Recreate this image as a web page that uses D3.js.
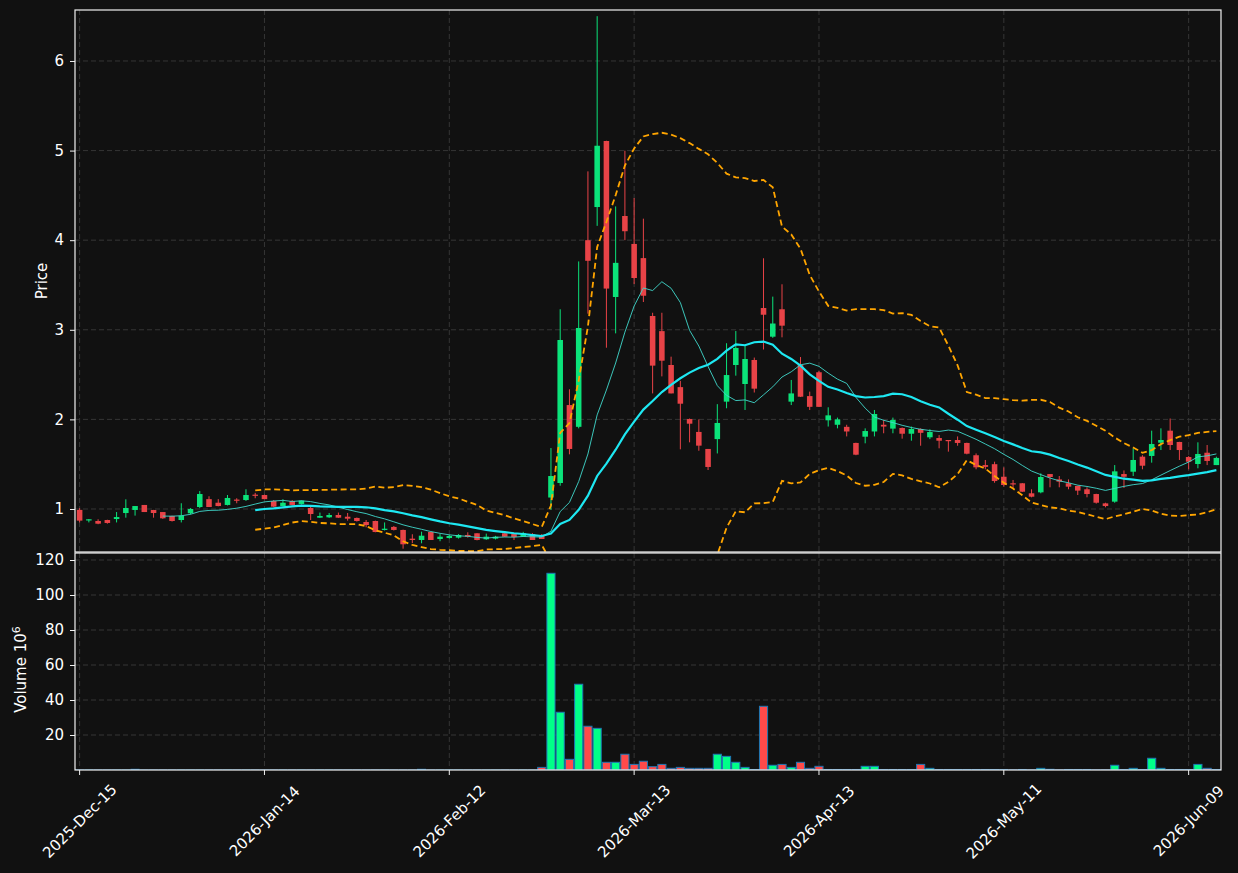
<!DOCTYPE html>
<html lang="en">
<head>
  <meta charset="UTF-8">
  <title>Price / Volume Candlestick</title>
  <style>
    body { margin: 0; background: #111111; }
    svg text { font-family: "DejaVu Sans", sans-serif; fill: #ffffff; font-size: 15px; }
    .grid line { stroke: #3a3a3a; stroke-width: 0.9; stroke-dasharray: 5,3; }
    .spine { fill: none; stroke: #f2f2f2; stroke-width: 1.2; }
  </style>
</head>
<body>
<svg id="chart" width="1238" height="873"></svg>
<script src="https://d3js.org/d3.v7.min.js"></script>
<script>
  // trading days shown on the x axis (index based, weekends/holidays skipped)
  const dates = [
    '2025-12-15','2025-12-16','2025-12-17','2025-12-18','2025-12-19','2025-12-22','2025-12-23','2025-12-24','2025-12-26','2025-12-29',
    '2025-12-30','2025-12-31','2026-01-02','2026-01-05','2026-01-06','2026-01-07','2026-01-08','2026-01-09','2026-01-12','2026-01-13',
    '2026-01-14','2026-01-15','2026-01-16','2026-01-20','2026-01-21','2026-01-22','2026-01-23','2026-01-26','2026-01-27','2026-01-28',
    '2026-01-29','2026-01-30','2026-02-02','2026-02-03','2026-02-04','2026-02-05','2026-02-06','2026-02-09','2026-02-10','2026-02-11',
    '2026-02-12','2026-02-13','2026-02-17','2026-02-18','2026-02-19','2026-02-20','2026-02-23','2026-02-24','2026-02-25','2026-02-26',
    '2026-02-27','2026-03-02','2026-03-03','2026-03-04','2026-03-05','2026-03-06','2026-03-09','2026-03-10','2026-03-11','2026-03-12',
    '2026-03-13','2026-03-16','2026-03-17','2026-03-18','2026-03-19','2026-03-20','2026-03-23','2026-03-24','2026-03-25','2026-03-26',
    '2026-03-27','2026-03-30','2026-03-31','2026-04-01','2026-04-02','2026-04-06','2026-04-07','2026-04-08','2026-04-09','2026-04-10',
    '2026-04-13','2026-04-14','2026-04-15','2026-04-16','2026-04-17','2026-04-20','2026-04-21','2026-04-22','2026-04-23','2026-04-24',
    '2026-04-27','2026-04-28','2026-04-29','2026-04-30','2026-05-01','2026-05-04','2026-05-05','2026-05-06','2026-05-07','2026-05-08',
    '2026-05-11','2026-05-12','2026-05-13','2026-05-14','2026-05-15','2026-05-18','2026-05-19','2026-05-20','2026-05-21','2026-05-22',
    '2026-05-26','2026-05-27','2026-05-28','2026-05-29','2026-06-01','2026-06-02','2026-06-03','2026-06-04','2026-06-05','2026-06-08',
    '2026-06-09','2026-06-10','2026-06-11','2026-06-12'
  ];

  const open = [
    0.99,0.88,0.866,0.877,0.888,0.955,0.989,1.045,0.989,0.966,
    0.922,0.877,0.952,1.022,1.11,1.07,1.045,1.105,1.10,1.16,
    1.156,1.089,1.033,1.089,1.056,1.011,0.903,0.907,0.933,0.914,
    0.90,0.855,0.866,0.766,0.80,0.766,0.669,0.654,0.743,0.665,
    0.676,0.68,0.71,0.729,0.662,0.669,0.729,0.72,0.691,0.721,
    0.71,1.128,1.29,2.16,1.917,4.0,4.37,5.107,3.366,4.27,
    3.958,3.80,3.154,2.985,2.607,2.36,2.004,1.86,1.67,1.78,
    2.198,2.607,2.395,2.663,3.243,2.923,3.229,2.198,2.607,2.26,
    2.526,1.99,1.94,1.917,1.737,1.807,1.865,1.94,1.897,1.904,
    1.84,1.893,1.80,1.792,1.77,1.77,1.737,1.60,1.49,1.50,
    1.36,1.287,1.287,1.175,1.186,1.39,1.33,1.287,1.257,1.22,
    1.167,1.063,1.082,1.39,1.416,1.584,1.592,1.74,1.874,1.748,
    1.58,1.502,1.628,1.49
  ];
  const high = [
    1.01,0.887,0.885,0.88,0.966,1.108,1.033,1.045,0.99,0.966,
    0.925,1.064,1.01,1.20,1.142,1.11,1.156,1.12,1.22,1.18,
    1.16,1.10,1.108,1.10,1.095,1.04,0.96,0.955,0.96,0.955,
    0.905,0.877,0.87,0.85,0.81,0.77,0.718,0.747,0.745,0.72,
    0.71,0.72,0.74,0.73,0.725,0.70,0.735,0.73,0.745,0.73,
    0.72,1.68,3.229,2.336,3.763,4.768,6.50,5.11,4.377,4.999,
    4.47,4.24,3.19,3.19,2.70,2.43,2.01,2.00,1.67,2.17,
    2.85,2.986,2.83,2.69,3.798,3.37,3.508,2.44,2.696,2.31,
    2.54,2.135,2.02,1.94,1.74,1.90,2.105,1.993,2.02,1.91,
    1.92,1.90,1.89,1.825,1.77,1.81,1.74,1.62,1.547,1.528,
    1.465,1.324,1.29,1.22,1.398,1.39,1.368,1.33,1.26,1.242,
    1.17,1.07,1.49,1.43,1.677,1.60,1.874,1.90,2.01,1.75,
    1.59,1.744,1.714,1.584
  ];
  const low = [
    0.85,0.85,0.83,0.836,0.85,0.903,0.926,0.966,0.903,0.89,
    0.86,0.85,0.94,1.01,1.022,1.03,1.04,1.064,1.09,1.12,
    1.11,1.02,1.03,1.04,1.05,0.877,0.90,0.90,0.90,0.87,
    0.86,0.796,0.74,0.76,0.76,0.557,0.62,0.617,0.654,0.64,
    0.67,0.67,0.68,0.65,0.655,0.66,0.69,0.654,0.69,0.654,
    0.665,0.99,1.26,1.61,1.90,3.18,4.16,2.80,2.96,4.0,
    3.51,3.31,2.29,2.48,2.29,1.666,1.744,1.65,1.435,1.62,
    2.124,2.488,2.105,2.30,2.78,2.91,2.916,2.16,2.25,2.105,
    2.14,1.92,1.90,1.81,1.60,1.733,1.81,1.845,1.845,1.785,
    1.762,1.706,1.78,1.677,1.64,1.706,1.61,1.443,1.443,1.293,
    1.25,1.23,1.19,1.13,1.175,1.242,1.242,1.22,1.156,1.13,
    1.06,1.019,1.07,1.234,1.368,1.443,1.517,1.658,1.658,1.547,
    1.443,1.454,1.49,1.49
  ];
  const close = [
    0.87,0.885,0.836,0.844,0.91,1.011,1.033,0.966,0.955,0.896,
    0.866,0.926,1.0,1.167,1.022,1.033,1.123,1.10,1.156,1.156,
    1.11,1.026,1.07,1.045,1.093,0.944,0.922,0.933,0.903,0.892,
    0.866,0.821,0.743,0.78,0.766,0.606,0.654,0.702,0.654,0.691,
    0.699,0.71,0.69,0.654,0.691,0.691,0.691,0.687,0.729,0.654,
    0.665,1.368,2.886,1.67,3.02,3.77,5.054,3.46,3.747,4.10,
    3.578,3.38,2.60,2.655,2.29,2.175,1.952,1.707,1.469,1.96,
    2.495,2.797,2.674,2.343,3.168,3.07,3.046,2.29,2.253,2.14,
    2.14,2.045,2.0,1.865,1.606,1.87,2.06,1.92,1.993,1.84,
    1.893,1.85,1.859,1.762,1.76,1.737,1.617,1.465,1.47,1.312,
    1.268,1.276,1.193,1.137,1.357,1.357,1.305,1.249,1.205,1.167,
    1.07,1.033,1.42,1.36,1.547,1.483,1.725,1.77,1.714,1.658,
    1.528,1.614,1.536,1.57
  ];
  // volume in millions
  const volume = [
    0.05,0.05,0.05,0.05,0.05,0.05,0.4,0.05,0.05,0.05,
    0.05,0.05,0.05,0.05,0.05,0.05,0.05,0.05,0.05,0.05,
    0.05,0.05,0.05,0.05,0.05,0.05,0.05,0.05,0.05,0.05,
    0.05,0.05,0.05,0.05,0.05,0.05,0.05,0.4,0.05,0.05,
    0.05,0.05,0.05,0.05,0.05,0.05,0.05,0.05,0.05,0.05,
    1.5,112.4,33,6.1,49,25,23.8,4.4,4.4,9,
    3.2,5,1.9,3.2,0.95,1.5,0.95,0.95,0.95,9,
    7.8,4.4,1.5,0.3,36.4,2.7,3.2,1.5,4.4,0.95,
    2.1,0.3,0.3,0.3,0.3,2.1,2.1,0.3,0.3,0.3,
    0.3,3.2,0.95,0.3,0.3,0.3,0.3,0.3,0.3,0.3,
    0.3,0.1,0.3,0.1,0.95,0.4,0.1,0.3,0.3,0.3,
    0.1,0.1,2.7,0.3,0.95,0.3,6.7,0.95,0.3,0.3,
    0.3,3.2,0.95,0.3
  ];

  const priceTicks = [1, 2, 3, 4, 5, 6];
  const volumeTicks = [20, 40, 60, 80, 100, 120];
  const dateTickIdx = [0, 20, 40, 60, 80, 100, 120];

  const upColor = '#0be37a', downColor = '#e84347';
  const upVol = '#00ff88', downVol = '#ff4a4a';

  const n = dates.length;
  const parseDate = d3.timeParse('%Y-%m-%d');
  const fmtDate = d3.timeFormat('%Y-%b-%d');
  const bars = d3.range(n).map(i => ({
    i, date: parseDate(dates[i]), o: open[i], h: high[i], l: low[i], c: close[i], v: volume[i]
  }));

  // layout
  const left = 75, right = 1221;
  const pTop = 10, pBottom = 552;
  const vTop = 553, vBottom = 770;

  const x = d3.scaleLinear().domain([-0.5, n - 0.5]).range([left, right]);
  const yPrice = d3.scaleLinear().domain([0.52, 6.569]).range([pBottom, pTop]);
  const yVol = d3.scaleLinear().domain([0, 124]).range([vBottom, vTop]);
  const step = x(1) - x(0);

  const svg = d3.select('#chart');
  svg.append('rect').attr('width', 1238).attr('height', 873).attr('fill', '#111111');

  const defs = svg.append('defs');
  defs.append('clipPath').attr('id', 'clipPrice')
    .append('rect').attr('x', left).attr('y', pTop).attr('width', right - left).attr('height', pBottom - pTop);
  defs.append('clipPath').attr('id', 'clipVol')
    .append('rect').attr('x', left).attr('y', vTop).attr('width', right - left).attr('height', vBottom - vTop);

  // grids
  function grid(yScale, ticks, top, bottom) {
    const g = svg.append('g').attr('class', 'grid');
    g.selectAll('.h').data(ticks).enter().append('line')
      .attr('x1', left).attr('x2', right)
      .attr('y1', d => yScale(d)).attr('y2', d => yScale(d));
    g.selectAll('.v').data(dateTickIdx).enter().append('line')
      .attr('x1', d => x(d)).attr('x2', d => x(d))
      .attr('y1', top).attr('y2', bottom);
  }
  grid(yPrice, priceTicks, pTop, pBottom);
  grid(yVol, volumeTicks, vTop, vBottom);

  // candles
  const candles = svg.append('g').attr('clip-path', 'url(#clipPrice)');
  const bodyW = step * 0.6;
  candles.selectAll('.wick').data(bars).enter().append('line')
    .attr('x1', d => x(d.i)).attr('x2', d => x(d.i))
    .attr('y1', d => yPrice(d.h)).attr('y2', d => yPrice(d.l))
    .attr('stroke', d => d.c >= d.o ? upColor : downColor)
    .attr('stroke-width', 1);
  candles.selectAll('.body').data(bars).enter().append('rect')
    .attr('x', d => x(d.i) - bodyW / 2)
    .attr('width', bodyW)
    .attr('y', d => yPrice(Math.max(d.o, d.c)))
    .attr('height', d => Math.max(1.2, Math.abs(yPrice(d.o) - yPrice(d.c))))
    .attr('fill', d => d.c >= d.o ? upColor : downColor);

  // moving averages and bollinger bands from the closes
  function rolling(win) {
    const out = [];
    for (let i = win - 1; i < n; i++) {
      const s = close.slice(i - win + 1, i + 1);
      out.push({ i, mean: d3.mean(s), sd: d3.deviation(s) });
    }
    return out;
  }
  const ma10 = rolling(10), ma20 = rolling(20);

  const line = acc => d3.line().x(d => x(d.i)).y(d => yPrice(acc(d)));

  candles.append('path').datum(ma10)
    .attr('d', line(d => d.mean))
    .attr('fill', 'none').attr('stroke', '#40d8cc').attr('stroke-width', 1).attr('opacity', 0.9);
  candles.append('path').datum(ma20)
    .attr('d', line(d => d.mean))
    .attr('fill', 'none').attr('stroke', '#1ee8f2').attr('stroke-width', 2.2);
  candles.append('path').datum(ma20)
    .attr('d', line(d => d.mean + 2 * d.sd))
    .attr('fill', 'none').attr('stroke', '#ffa500').attr('stroke-width', 1.8).attr('stroke-dasharray', '6,3.5');
  candles.append('path').datum(ma20)
    .attr('d', line(d => d.mean - 2 * d.sd))
    .attr('fill', 'none').attr('stroke', '#ffa500').attr('stroke-width', 1.8).attr('stroke-dasharray', '6,3.5');

  // volume bars
  const volW = step * 0.88;
  svg.append('g').attr('clip-path', 'url(#clipVol)')
    .selectAll('rect').data(bars).enter().append('rect')
    .attr('x', d => x(d.i) - volW / 2)
    .attr('width', volW)
    .attr('y', d => yVol(d.v))
    .attr('height', d => yVol(0) - yVol(d.v))
    .attr('fill', d => d.c >= d.o ? upVol : downVol)
    .attr('stroke', '#1f77b4').attr('stroke-width', 1);

  // axes frames
  svg.append('rect').attr('class', 'spine')
    .attr('x', left).attr('y', pTop).attr('width', right - left).attr('height', pBottom - pTop);
  svg.append('rect').attr('class', 'spine')
    .attr('x', left).attr('y', vTop).attr('width', right - left).attr('height', vBottom - vTop);

  // y axes
  const yAxisP = d3.axisLeft(yPrice).tickValues(priceTicks).tickFormat(d3.format('d')).tickSize(5).tickPadding(6);
  const yAxisV = d3.axisLeft(yVol).tickValues(volumeTicks).tickFormat(d3.format('d')).tickSize(5).tickPadding(6);
  [yAxisP, yAxisV].forEach(ax => {
    const g = svg.append('g').attr('transform', `translate(${left},0)`).call(ax);
    g.select('.domain').remove();
    g.selectAll('.tick line').attr('stroke', '#f2f2f2');
    g.selectAll('.tick text').attr('font-size', 15).attr('font-family', 'DejaVu Sans').attr('fill', '#fff');
  });

  // x axis (date labels at the bottom of the volume panel)
  const xg = svg.append('g');
  xg.selectAll('line').data(dateTickIdx).enter().append('line')
    .attr('x1', d => x(d)).attr('x2', d => x(d))
    .attr('y1', vBottom).attr('y2', vBottom + 5)
    .attr('stroke', '#f2f2f2');
  xg.selectAll('text').data(dateTickIdx).enter().append('text')
    .attr('transform', d => `translate(${x(d)},821) rotate(-45)`)
    .attr('text-anchor', 'middle')
    .attr('dy', '0.35em')
    .text(d => fmtDate(bars[d].date));

  // axis titles
  svg.append('text')
    .attr('transform', `translate(47,${(pTop + pBottom) / 2}) rotate(-90)`)
    .attr('text-anchor', 'middle')
    .text('Price');
  const vt = svg.append('text')
    .attr('transform', `translate(26,${(vTop + vBottom) / 2 + 8}) rotate(-90)`)
    .attr('text-anchor', 'middle');
  vt.append('tspan').text('Volume  10');
  vt.append('tspan').attr('dy', -6).attr('font-size', 11).text('6');
</script>
</body>
</html>
